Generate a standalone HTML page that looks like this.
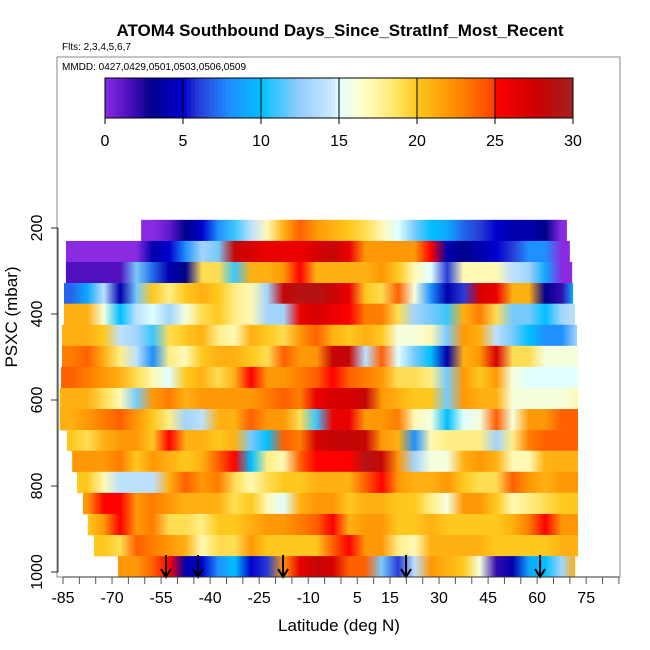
<!DOCTYPE html>
<html><head><meta charset="utf-8"><style>
body{margin:0;background:#fff;}
svg{display:block;font-family:"Liberation Sans",sans-serif;}
</style></head><body>
<svg id="chart" width="650" height="650" viewBox="0 0 650 650">
<defs id="defs"></defs>
<text x="340" y="36" text-anchor="middle" font-size="17" font-weight="bold">ATOM4 Southbound Days_Since_StratInf_Most_Recent</text>
<text x="62" y="50" font-size="10">Flts: 2,3,4,5,6,7</text>
<rect x="57" y="57" width="563" height="520" fill="none" stroke="#888"/>
<text x="62" y="70" font-size="10">MMDD: 0427,0429,0501,0503,0506,0509</text>
<g id="heat"></g>
<g id="arrows"></g>
<g id="cbar"></g>
<g id="axes"></g>
<text x="339" y="631" text-anchor="middle" font-size="17">Latitude (deg N)</text>
<text transform="translate(17,317) rotate(-90)" text-anchor="middle" font-size="17">PSXC (mbar)</text>
</svg>
<script>
const xTicks=[-85,-70,-55,-40,-25,-10,5,15,30,45,60,75];
const yTicks=[200,400,600,800,1000];
const cbTicks=[0,5,10,15,20,25,30];
const arrowLats=[-53.5,-43.7,-17.7,19.9,60.9];
const rowTopP=[181,230,279,328,376,425,474,523,572,621,670,718,767,816,865,914,963];
const rowBotP=1012;
const rowStart=[-61.1,-84.1,-84.1,-84.7,-84.7,-85.3,-85.3,-85.6,-86,-86,-83.8,-82.2,-80.7,-78.9,-77.4,-75.5,-68.2];
const rowEnd=[69.1,70.0,70.7,71,71.6,72.2,72.5,72.5,72.5,72.5,72.5,72.5,72.5,72.5,72.5,72.5,71.6];
const row0=[null,null,null,null,0,0,1,3,5,8,11,14,17,21,24,22,21,20,19,17,15,12,10,9,7,6,5,4,4,3,0,0];
const row1=[0,0,0,0,0,4,5,8,13,12,28,27,26,26,26,27,28,26,22,22,22,22,25,4,3,4,5,6,8,8,0,0];
const row2=[1.5,1.5,1.5,1.5,12,7,4,3,19,19,11,21,21,22,25,21,21,21,21,22,20,17,15,6,17,17,17,14,13,9,0,0];
const row3=[7,9,14,4,12,20,18,20,21,20,18,17,13,28,29,29,28,26,20,19,24,16,8,4,6,27,26,21,21,3,2,9];
const row4=[21,21,16,10,14,15,13,16,19,20,18,17,13,13,26,27,26,25,23,23,19,13,12,11,21,23,19,12,12,10,13,14];
const row5=[21,21,20,14,13,11,19,20,21,18,17,21,20,19,22,24,21,20,21,20,16,16,17,12,22,21,14,12,10,8,8,13];
const row6=[23,24,21,18,14,8,18,17,20,21,21,20,19,24,22,22,28,28,14,24,15,12,10,4,21,22,27,19,19,16,16,16];
const row7=[24,23,22,21,19,17,15,20,21,19,21,25,22,22,23,24,25,24,23,22,19,19,18,12,22,20,22,16,15,15,15,15];
const row8=[21,21,19,17,12,22,23,21,22,22,22,22,23,24,23,26,27,27,28,22,21,20,20,12,22,21,21,16,16,16,16,17];
const row9=[21,22,23,24,22,20,18,13,14,21,21,24,22,22,19,11,26,26,22,22,23,17,16,10,15,16,24,16,22,22,24,24];
const row10=[20,19,21,22,22,20,25,21,21,20,21,12,10,24,23,27,28,28,28,22,21,8,17,18,18,18,13,18,23,24,24,24];
const row11=[22,22,22,23,20,22,21,20,21,24,25,10,18,17,24,25,25,25,29,28,22,13,16,16,21,22,21,17,17,21,21,21];
const row12=[20,20,17,14,14,14,21,24,22,23,19,17,19,20,20,21,21,21,24,25,22,21,21,22,20,19,19,24,22,21,22,22];
const row13=[22,22,25,25,22,23,22,21,21,21,19,20,17,15,21,22,22,20,21,21,20,20,18,16,22,22,20,17,18,19,20,20];
const row14=[20,20,22,25,22,23,19,19,18,20,20,21,22,22,23,24,25,21,22,22,20,20,21,20,20,20,20,21,23,25,22,22];
const row15=[20,20,20,19,24,23,22,21,17,19,19,22,20,20,20,20,24,25,22,22,18,17,21,21,21,21,20,20,20,20,21,21];
const row16=[null,null,null,22,22,24,25,4,5,8,10,5,6,22,26,28,27,24,24,12,6,14,22,21,20,16,2,4,9,10,13,21];
const rows=[row0,row1,row2,row3,row4,row5,row6,row7,row8,row9,row10,row11,row12,row13,row14,row15,row16];
const binLat0=-85, binW=5;

const NS="http://www.w3.org/2000/svg";
const xS=lat=>63+(lat+85)*3.27;
const yS=p=>228+(p-200)*0.43;
const cbX=v=>105+v*(468/30);
const stops=[[0,[138,43,226]],[1.5,[80,16,192]],[3,[0,0,139]],[5,[0,0,205]],[6,[40,60,215]],[8,[30,144,255]],[10,[0,191,255]],[12.5,[150,205,250]],[14.5,[200,232,255]],[15,[224,255,255]],[16.5,[255,255,205]],[18.5,[255,232,110]],[20,[255,200,30]],[22.5,[255,140,0]],[24.9,[255,69,0]],[25,[255,0,0]],[27.5,[205,0,0]],[30,[165,32,32]]];
function col(v){
  v=Math.max(0,Math.min(30,v));
  for(let i=1;i<stops.length;i++){
    if(v<=stops[i][0]){const a=stops[i-1],b=stops[i];const t=(v-a[0])/(b[0]-a[0]||1);
      const c=a[1].map((x,k)=>Math.round(x+(b[1][k]-x)*t));return `rgb(${c[0]},${c[1]},${c[2]})`;}
  }
  return 'rgb(165,32,32)';
}
function mk(tag,attrs,parent){const e=document.createElementNS(NS,tag);for(const k in attrs)e.setAttribute(k,attrs[k]);parent.appendChild(e);return e;}

const defs=document.getElementById('defs');
const heat=document.getElementById('heat');
rows.forEach((vals,r)=>{
  const pT=rowTopP[r], pB=r+1<rowTopP.length?rowTopP[r+1]:rowBotP;
  const x0=xS(rowStart[r]), x1=xS(rowEnd[r]);
  const gid='g'+r;
  const lg=mk('linearGradient',{id:gid,gradientUnits:'userSpaceOnUse',x1:x0,y1:0,x2:x1,y2:0},defs);
  vals.forEach((v,i)=>{
    if(v===null)return;
    const c=binLat0+i*binW+binW/2;
    const off=Math.max(0,Math.min(1,(xS(c)-x0)/(x1-x0)));
    mk('stop',{offset:off.toFixed(4),'stop-color':col(v)},lg);
  });
  const e=mk('rect',{x:x0.toFixed(2),y:yS(pT).toFixed(2),width:(x1-x0).toFixed(2),height:(yS(pB)-yS(pT)+0.3).toFixed(2),fill:`url(#${gid})`},heat);
  
  
});

const ar=document.getElementById('arrows');
arrowLats.forEach(l=>{
  const x=xS(l);
  const g=mk('g',{},ar);
  
  
  mk('line',{x1:x,y1:555,x2:x,y2:576,stroke:'#000','stroke-width':2},g);
  mk('polyline',{points:`${x-5},569 ${x},577 ${x+5},569`,fill:'none',stroke:'#000','stroke-width':2},g);
});

const cb=document.getElementById('cbar');
for(let v=0;v<30;v+=0.25){
  const e=mk('rect',{x:cbX(v).toFixed(2),y:78,width:(cbX(0.25)-cbX(0)+0.5).toFixed(2),height:40,fill:col(v+0.125)},cb);
  
  
}
mk('rect',{x:105,y:78,width:468,height:40,fill:'none',stroke:'#000'},cb);
cbTicks.forEach(t=>{
  const x=cbX(t);
  mk('line',{x1:x,y1:78,x2:x,y2:124,stroke:'#000'},cb);
  const tx=mk('text',{x:x,y:146,'text-anchor':'middle','font-size':16},cb);
  tx.textContent=t;
  
  
});

const ax=document.getElementById('axes');
mk('line',{x1:xS(-85),y1:577,x2:xS(85),y2:577,stroke:'#333'},ax);
for(let l=-85;l<=85;l+=5){mk('line',{x1:xS(l),y1:577,x2:xS(l),y2:584,stroke:'#555'},ax);}
xTicks.forEach(t=>{
  const tx=mk('text',{x:xS(t),y:603,'text-anchor':'middle','font-size':16},ax);
  tx.textContent=t;
  
  
});
mk('line',{x1:58,y1:yS(200),x2:58,y2:yS(1000),stroke:'#333'},ax);
yTicks.forEach(t=>{
  const y=yS(t);
  mk('line',{x1:51,y1:y,x2:58,y2:y,stroke:'#333'},ax);
  const tx=mk('text',{transform:`translate(42,${y}) rotate(-90)`,'text-anchor':'middle','font-size':16},ax);
  tx.textContent=t;
  
  
});
</script>
</body></html>
